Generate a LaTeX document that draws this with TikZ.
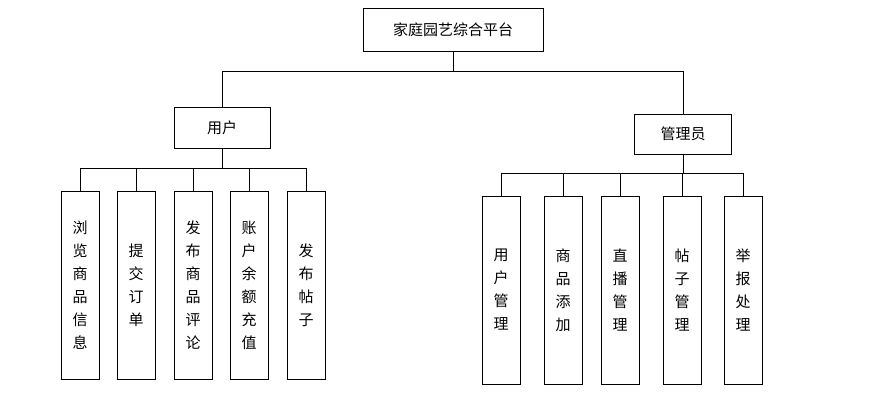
\documentclass[tikz,border=0pt]{standalone}
\usepackage{fontspec}
\setmainfont{Noto Sans CJK SC}
\usetikzlibrary{positioning}

\begin{document}
\begin{tikzpicture}[x=1pt,y=-1pt,
				hbox/.style={rectangle, draw=black, thick, inner sep=0pt, font=\fontsize{15}{18}\selectfont},
				vbox/.style={rectangle, draw=black, thick, minimum width=38pt, minimum height=188pt, inner sep=0pt, align=center, font=\fontsize{15}{23}\selectfont},
				link/.style={draw=black, thick}
			]
			\useasboundingbox (0,0) rectangle (884,409);
			\node[hbox, minimum width=180pt, minimum height=43pt] (root) at (453,30) {家庭园艺综合平台};
			\node[hbox, minimum width=96pt, minimum height=41pt] (user) at (222,128) {用户};
			\node[hbox, minimum width=97pt, minimum height=40pt] (admin) at (683,134) {管理员};
			% user side
			\node[vbox] (browse) at (80,285) {浏\\览\\商\\品\\信\\息};
			\node[vbox] (order) at (136,285) {提\\交\\订\\单};
			\node[vbox] (review) at (193,285) {发\\布\\商\\品\\评\\论};
			\node[vbox] (recharge) at (249,285) {账\\户\\余\\额\\充\\值};
			\node[vbox] (post) at (306,285) {发\\布\\帖\\子};
			% admin side
			\node[vbox] (usermgr) at (501,290) {用\\户\\管\\理};
			\node[vbox] (goodsadd) at (563,290) {商\\品\\添\\加};
			\node[vbox] (livemgr) at (620,290) {直\\播\\管\\理};
			\node[vbox] (postmgr) at (682,290) {帖\\子\\管\\理};
			\node[vbox] (report) at (743,290) {举\\报\\处\\理};
			\draw[link] (root.south) -- ++(0,20) -| (user.north);
			\draw[link] (root.south) -- ++(0,20) -| (admin.north);
			\foreach \c in {browse,order,review,recharge,post}
				\draw[link] (user.south) -- ++(0,20) -| (\c.north);
			\foreach \c in {usermgr,goodsadd,livemgr,postmgr,report}
				\draw[link] (admin.south) -- ++(0,19) -| (\c.north);
			\end{tikzpicture}
\end{document}
